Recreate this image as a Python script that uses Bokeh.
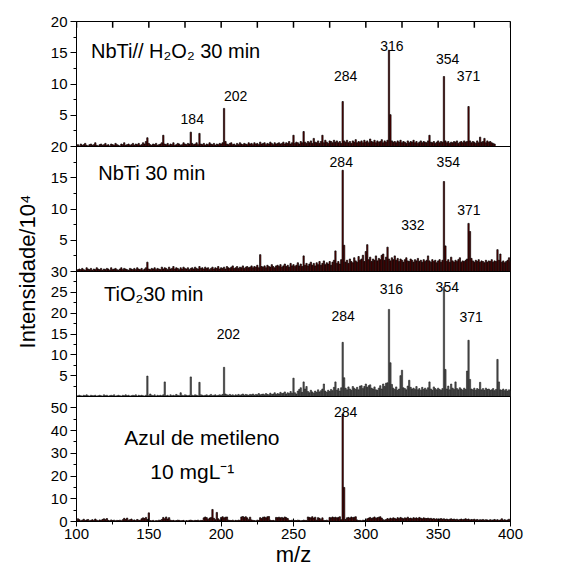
from bokeh.plotting import figure
from bokeh.models import Range1d, FixedTicker, SingleIntervalTicker, Label
from bokeh.embed import file_html
from bokeh.resources import INLINE

FONT = "Liberation Sans"

# m/z grid (one bar per integer m/z)
mz = list(range(100, 401))

# Panel 1: NbTi// H2O2 30 min  (intensity / 10^4)
nbti_h2o2 = [
    0.2,0.3,0.1,0.4,0.2,0.3,0.5,0.2,0.1,0.3,0.4,0.2,0.3,0.6,0.2,0.1,0.3,0.4,0.2,0.3,
    0.5,0.2,0.3,0.1,0.4,0.3,0.2,0.5,0.3,0.2,0.1,0.4,0.3,0.6,0.2,0.3,0.4,0.2,0.3,0.5,
    0.2,0.4,0.3,0.5,0.2,0.3,0.6,0.4,0.8,1.4,0.5,0.3,0.2,0.4,0.3,0.5,0.2,0.3,0.4,0.6,
    1.8,0.4,0.3,0.5,0.2,0.4,0.3,0.6,0.2,0.3,0.5,0.4,0.2,0.3,0.6,0.4,0.3,0.5,0.4,2.3,
    0.5,0.3,0.4,0.6,0.3,2.1,0.4,0.3,0.5,0.2,0.4,0.3,0.6,0.4,0.3,0.5,0.2,0.4,0.3,0.5,
    0.4,0.6,6.1,0.8,0.4,0.3,0.5,0.6,0.3,0.4,0.2,0.5,0.3,0.6,0.4,0.3,0.5,0.4,0.3,0.6,
    0.4,0.5,0.3,0.6,0.4,0.5,0.3,0.7,0.4,0.5,0.6,0.3,0.5,0.4,0.7,0.5,0.3,0.6,0.4,0.5,
    0.6,0.4,0.5,0.7,0.4,0.6,0.5,0.8,0.4,0.6,1.8,0.5,0.7,0.6,0.4,0.8,0.6,2.4,0.7,0.5,
    0.8,0.6,0.9,0.5,1.3,0.7,0.6,0.9,0.5,0.8,1.8,0.6,1.0,0.7,0.5,0.9,0.8,0.6,1.0,0.7,
    0.9,0.6,0.8,0.5,7.2,0.9,0.7,1.0,0.6,0.8,0.5,0.9,0.7,1.1,0.6,0.8,0.7,0.9,0.6,1.0,
    0.7,0.9,0.6,1.2,0.8,0.7,1.0,0.6,0.9,0.7,0.8,1.1,0.6,0.9,0.7,1.0,15.4,5.1,0.9,0.7,
    0.8,0.6,0.9,0.7,1.0,0.6,0.8,0.7,0.5,0.9,0.6,0.8,0.7,1.0,0.6,0.8,0.5,0.7,0.9,0.6,
    0.8,0.7,0.6,0.9,1.8,0.7,0.6,0.8,0.5,0.7,0.9,0.6,0.8,0.7,11.2,0.9,0.6,0.8,0.5,0.7,
    0.6,0.8,0.7,0.9,0.5,0.7,0.8,0.6,0.9,0.7,0.8,6.4,0.9,0.6,0.8,0.7,0.5,0.9,0.6,1.5,
    0.7,0.8,1.3,0.6,0.9,0.7,0.8,0.6,0.5,0.4,0,0,0,0,0,0,0,0,0,0,
    0,
]

# Panel 2: NbTi 30 min
nbti = [
    0.2,0.3,0.4,0.3,0.5,0.3,0.2,0.6,0.4,0.3,0.5,0.2,0.4,0.3,0.6,0.4,0.3,0.5,0.2,0.4,
    0.3,0.5,0.4,0.2,0.6,0.3,0.4,0.5,0.3,0.2,0.4,0.6,0.3,0.5,0.4,0.3,0.2,0.5,0.4,0.3,
    0.5,0.3,0.6,0.4,0.3,0.5,0.2,0.4,0.6,1.5,0.4,0.3,0.5,0.4,0.6,0.3,0.5,0.4,0.3,0.7,
    0.4,0.6,0.5,0.3,0.7,0.4,0.5,0.8,0.4,0.6,0.5,0.3,0.6,0.4,0.7,0.5,0.4,0.6,0.3,0.5,
    0.6,0.4,0.7,0.5,0.4,0.8,0.5,0.6,0.4,0.7,0.5,0.6,0.3,0.5,0.7,0.4,0.6,0.5,0.8,0.4,
    0.6,0.5,0.7,0.4,0.8,0.6,0.5,0.7,0.9,0.5,0.6,0.8,0.5,0.7,0.6,0.9,0.5,0.7,0.8,0.6,
    0.7,0.9,0.6,0.8,0.7,1.0,0.6,2.7,0.8,0.7,0.9,0.6,1.0,0.8,0.7,1.1,0.8,0.6,0.9,1.0,
    0.8,1.1,0.7,0.9,1.2,0.8,1.0,0.7,1.3,0.9,1.1,0.8,1.0,1.4,0.9,1.2,0.8,2.5,1.0,1.3,
    0.9,1.2,1.5,1.0,1.3,0.9,1.4,1.1,1.6,1.0,1.3,1.7,1.1,1.4,1.2,1.6,1.0,1.5,1.8,3.3,
    1.3,1.6,1.2,1.9,16.2,4.2,1.5,1.8,1.3,2.0,1.6,1.4,2.2,1.7,1.5,2.4,1.8,2.0,2.6,1.6,
    3.2,4.3,1.9,2.3,1.6,2.0,1.8,2.5,1.7,2.1,1.9,2.6,2.8,1.8,2.3,3.9,2.0,1.7,2.2,1.9,
    2.5,1.8,2.1,1.6,2.0,1.8,1.5,1.9,2.2,1.7,1.6,2.0,1.8,1.5,1.9,1.7,2.1,1.6,1.8,1.5,
    1.9,1.6,1.8,2.5,1.7,1.5,1.9,1.6,1.8,1.4,1.7,1.9,1.5,1.8,14.4,4.1,1.6,1.9,1.5,2.3,
    1.7,1.5,1.8,1.6,1.9,2.2,1.5,1.7,1.6,1.8,2.0,7.7,6.4,2.1,1.7,1.5,1.8,1.6,1.9,1.5,
    1.7,1.6,1.4,1.8,1.5,1.7,1.6,1.9,1.5,1.7,1.6,3.5,1.8,2.8,1.5,1.7,1.4,1.6,1.8,2.2,
    1.6,
]

# Panel 3: TiO2 30 min
tio2 = [
    0.1,0.2,0.3,0.2,0.1,0.3,0.2,0.4,0.2,0.1,0.3,0.2,0.2,0.3,0.1,0.2,0.3,0.2,0.1,0.4,
    0.2,0.3,0.1,0.2,0.3,0.2,0.4,0.1,0.2,0.3,0.2,0.1,0.3,0.2,0.4,0.2,0.3,0.1,0.2,0.3,
    0.2,0.4,0.1,0.3,0.2,0.3,0.2,0.1,0.3,4.9,0.2,0.6,0.3,0.2,0.4,0.1,0.3,0.2,0.3,0.2,
    0.4,3.5,0.2,0.3,0.1,0.4,0.2,0.3,0.2,0.5,0.3,0.2,0.9,0.3,0.2,0.4,0.3,0.2,0.3,4.7,
    0.3,0.2,0.4,0.3,0.2,3.4,0.4,0.3,0.2,0.3,0.4,0.2,0.3,0.5,0.2,0.3,0.4,0.2,0.3,0.4,
    0.3,0.5,7.0,0.6,0.4,0.3,0.5,0.3,0.4,0.2,0.4,0.3,0.5,0.3,0.4,0.6,0.3,0.5,0.4,0.3,
    0.5,0.4,0.6,0.3,0.5,0.4,0.7,0.4,0.5,0.6,0.4,0.7,0.5,0.4,0.8,0.5,0.6,0.9,0.5,0.7,
    0.6,1.0,0.7,0.8,1.1,0.6,0.9,0.7,1.2,0.8,4.4,0.9,0.6,1.3,1.7,2.1,1.0,3.5,1.8,2.4,
    1.2,0.9,1.5,1.1,0.8,1.3,1.0,1.6,1.1,1.4,1.8,3.0,1.3,1.0,1.5,1.2,1.7,1.4,2.2,3.5,
    1.5,1.9,1.3,2.1,13.0,4.5,2.0,1.6,2.3,1.8,1.5,2.4,2.0,1.7,2.2,1.6,2.5,2.6,1.9,2.4,
    3.0,2.2,2.6,2.8,2.0,1.8,2.3,1.6,1.5,2.0,2.6,1.8,3.0,2.4,3.2,3.3,20.9,8.1,2.9,2.0,
    1.7,2.3,1.5,1.8,5.0,6.3,2.1,1.9,1.6,2.5,3.9,2.2,1.8,2.0,1.7,2.4,1.6,1.9,1.5,2.2,
    1.7,2.0,1.6,2.1,3.5,1.8,1.5,2.3,1.9,1.6,2.0,1.7,1.5,1.9,26.3,6.5,1.8,2.5,1.6,3.0,
    2.0,1.7,3.5,1.9,1.6,2.1,1.8,1.5,2.0,1.7,6.1,13.5,4.1,1.8,1.6,2.0,1.5,1.9,1.7,3.4,
    1.6,1.9,1.5,2.0,1.7,1.8,1.5,1.6,1.9,1.4,1.7,8.9,3.5,1.6,1.5,1.8,1.4,1.7,1.3,1.6,
    1.4,
]

# Panel 4: Azul de metileno 10 mg/L
azul = [
    0.5,1.2,0.8,0.3,0.6,1.0,0.4,0.7,0.9,0.3,0.5,0.8,0.4,1.1,0.6,0.3,0.7,0.5,0.9,1.2,
    0.8,1.3,0.5,0.3,0.7,0.4,0.6,0.3,0.5,0.4,0.6,0.3,0.8,1.4,0.9,1.5,0.6,0.8,1.1,0.5,
    0.7,0.4,0.9,0.6,0.5,1.2,1.6,1.3,1.8,0.9,3.8,0.4,0.3,0.5,0.2,0.4,0.3,0.6,0.5,0.9,
    1.8,1.2,2.0,1.1,1.7,0.6,0.4,0.5,0.3,0.4,0.6,0.5,0.3,0.4,0.5,0.2,0.4,0.3,0.5,0.6,
    0.4,0.3,0.5,0.4,0.6,0.3,0.5,0.4,1.6,2.0,1.7,0.9,1.5,1.8,5.3,1.4,0.8,4.0,1.2,0.7,
    1.8,2.1,1.6,1.9,2.0,0.6,0.5,0.4,0.6,0.3,0.5,0.4,0.6,0.5,2.0,2.2,1.8,2.1,1.6,0.8,
    1.9,0.7,0.5,0.4,0.3,0.6,0.5,1.7,1.3,1.9,2.0,1.6,2.1,2.2,0.6,0.4,0.5,0.3,1.8,1.7,
    1.9,1.6,1.8,1.5,2.0,1.7,1.3,0.5,0.4,0.6,0.3,0.5,0.4,0.6,0.5,0.3,0.4,0.6,0.5,0.4,
    2.0,1.8,1.6,2.1,1.5,1.9,0.6,1.7,1.4,0.8,1.6,0.5,0.4,0.6,0.3,1.8,1.6,2.0,1.7,1.9,
    1.6,1.8,2.1,0.8,47.3,15.0,0.9,1.6,1.8,1.5,2.0,1.7,1.9,2.1,0.7,0.4,0.5,0.3,0.6,0.5,
    0.4,1.2,1.5,1.8,1.3,1.6,2.0,1.4,1.7,1.9,2.1,1.5,0.8,0.6,0.9,1.3,1.0,1.5,1.2,1.6,
    1.4,1.1,1.7,1.3,1.8,1.5,1.2,1.6,1.4,1.9,1.3,1.5,1.2,1.7,1.4,1.6,1.3,1.8,1.5,1.2,
    1.6,1.4,1.3,1.5,1.2,1.4,1.1,1.3,1.0,1.2,0.9,1.1,1.3,1.0,1.2,0.9,1.1,0.8,1.0,1.2,
    0.9,1.1,0.8,1.0,0.7,0.9,1.1,0.8,1.0,1.2,0.9,1.1,0.7,0.9,0.8,1.0,0.7,0.9,0.6,0.8,
    0.7,0.9,0.6,0.8,0.7,0.5,0.8,0.6,0.7,0.9,0.6,0.8,0.5,0.7,1.2,0.6,0.8,0.5,0.7,1.0,
    0.6,
]

# panel titles and peak annotations (texts)
titles = ["NbTi// H\u2082O\u2082  30 min", "NbTi 30 min", "TiO\u208230 min",
          "Azul de metileno", "10 mgL\u207b\u00b9"]
peaks1 = ["184", "202", "284", "316", "354", "371"]
peaks2 = ["284", "354", "332", "371"]
peaks3 = ["202", "284", "316", "354", "371"]
peaks4 = ["284"]

# tick values
xt_top = list(range(100, 401, 25))
yt1 = [5, 10, 15, 20]
yt2 = [5, 10, 15, 20]
yt3 = [5, 10, 15, 20, 25, 30]
yt4 = [0, 10, 20, 30, 40, 50]
ymax = {"p1": 20, "p2": 20, "p3": 30, "p4": 55}

# ---- layout / styling ----
K = 660  # height of one panel in the frame's own units
order = ["p4", "p3", "p2", "p1"]  # bottom to top
p = figure(width=561, height=569, x_range=Range1d(100, 400),
           y_range=Range1d(0, 4 * K),
           toolbar_location=None, output_backend="svg",
           min_border_left=76, min_border_right=51,
           min_border_top=21, min_border_bottom=44)
# each panel gets its own y range that places it in its quarter of the frame
p.extra_y_ranges = {
    rn: Range1d(-k * ymax[rn], (4 - k) * ymax[rn]) for k, rn in enumerate(order)
}
p.xgrid.visible = False
p.ygrid.visible = False
p.outline_line_color = "black"
p.outline_line_width = 1

RED = "#6e0000"
bar_kw = dict(width=0.9, line_color="black", line_width=0.7)
p.vbar(x=mz[:len(nbti_h2o2)], top=nbti_h2o2, y_range_name="p1", fill_color=RED, **bar_kw)
p.vbar(x=mz[:len(nbti)], top=nbti, y_range_name="p2", fill_color=RED, **bar_kw)
p.vbar(x=mz[:len(tio2)], top=tio2, y_range_name="p3", fill_color="#5a5a5a",
       width=0.9, line_color="#1a1a1a", line_width=0.6)
p.vbar(x=mz[:len(azul)], top=azul, y_range_name="p4", fill_color=RED, **bar_kw)

# panel separators
for rn in ["p1", "p2", "p3"]:
    p.hspan(y=[0], y_range_name=rn, line_color="black", line_width=1)

# inward tick marks along the top frame edge (top panel scale)
p.segment(x0=xt_top, x1=xt_top, y0=[ymax["p1"] + 1] * len(xt_top),
          y1=[ymax["p1"] - 1.0] * len(xt_top), y_range_name="p1",
          line_color="black", line_width=1.5)

def style_axis(ax):
    ax.axis_line_color = "black"
    ax.major_tick_line_color = "black"
    ax.minor_tick_line_color = "black"
    ax.major_label_text_font = FONT
    ax.major_label_text_font_size = "15px"
    ax.major_label_text_color = "black"

# bottom axis
xa = p.xaxis[0]
xa.ticker = SingleIntervalTicker(interval=50, num_minor_ticks=2)
style_axis(xa)
xa.major_tick_in = 3
xa.major_tick_out = 5
xa.minor_tick_in = 0
xa.minor_tick_out = 3
xa.major_label_standoff = 2
xa.axis_label = "m/z"
xa.axis_label_text_font = FONT
xa.axis_label_text_font_size = "22px"
xa.axis_label_text_font_style = "normal"
xa.axis_label_text_color = "black"
xa.axis_label_standoff = 0

# left axis: one scale per panel, labelled with that panel's own values
major, minor, overrides = [], [], {}
for k, (rn, ticks) in enumerate(zip(order, [yt4, yt3, yt2, yt1])):
    for v in ticks:
        pos = k * K + v * K // ymax[rn]
        major.append(pos)
        overrides[pos] = str(v)
    d = ticks[1] - ticks[0]
    m = d / 2
    while m < ymax[rn]:
        if m not in ticks:
            minor.append(k * K + m * K / ymax[rn])
        m += d

ya = p.yaxis[0]
ya.ticker = FixedTicker(ticks=major, minor_ticks=minor)
ya.major_label_overrides = overrides
style_axis(ya)
ya.major_tick_in = 0
ya.major_tick_out = 6
ya.minor_tick_in = 0
ya.minor_tick_out = 3
ya.major_label_standoff = 3
ya.axis_label = "Intensidade/10\u2074"
ya.axis_label_text_font = FONT
ya.axis_label_text_font_size = "22px"
ya.axis_label_text_font_style = "normal"
ya.axis_label_text_color = "black"
ya.axis_label_standoff = 8

def lab(x, y, text, rn, size="14px", align="center"):
    p.add_layout(Label(x=x, y=y, text=text, y_range_name=rn, text_font=FONT,
                       text_font_size=size, text_align=align,
                       text_baseline="alphabetic", text_color="black"))

# titles
lab(110, 15.3, titles[0], "p1", "20px", "left")
lab(115, 15.8, titles[1], "p2", "20px", "left")
lab(119, 24.7, titles[2], "p3", "20px", "left")
lab(133, 37.0, titles[3], "p4", "21px", "left")
lab(151, 22.0, titles[4], "p4", "21px", "left")

# peak labels
for t, x, y in zip(peaks1, [180, 210, 286, 318, 356.5, 371], [4.4, 8.1, 11.3, 16.1, 14.0, 11.3]):
    lab(x, y, t, "p1")
for t, x, y in zip(peaks2, [283, 357, 332.5, 371.3], [17.5, 17.6, 7.5, 9.8]):
    lab(x, y, t, "p2")
for t, x, y in zip(peaks3, [205, 284.3, 317.7, 356.3, 372.8], [15.0, 19.3, 25.7, 26.3, 19.0]):
    lab(x, y, t, "p3")
for t, x, y in zip(peaks4, [286], [48.0]):
    lab(x, y, t, "p4")

open("out.html", "w").write(file_html(p, INLINE))
